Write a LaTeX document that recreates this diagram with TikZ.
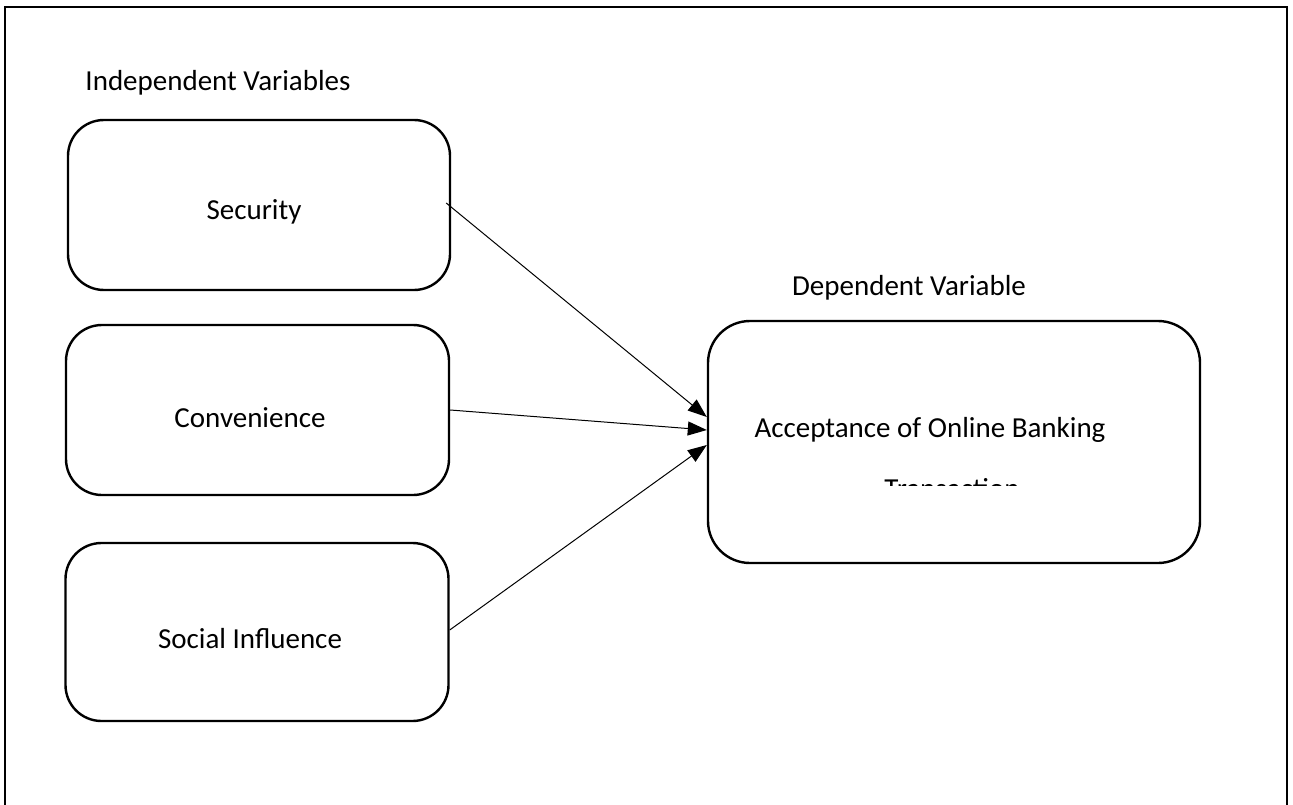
\documentclass[tikz,border=0pt]{standalone}
\usepackage{fontspec}
\setmainfont{Carlito}
\usetikzlibrary{arrows.meta,positioning}
\tikzset{
  varbox/.style={draw, line width=2.4pt, rounded corners=36pt, inner sep=0pt},
  lbl/.style={font=\fontsize{29}{35}\selectfont, inner sep=0pt},
  link/.style={line width=1pt, -{Triangle[length=19pt,width=14pt]}}
}
\begin{document}
\begin{tikzpicture}[x=1pt, y=-1pt]
\useasboundingbox (0,0) rectangle (1293,805);
\draw[line width=2pt] (5,805) -- (5,7) -- (1287,7) -- (1287,805);

\node[lbl] (indep) at (218,83) {Independent Variables};
\node[varbox, minimum width=382pt, minimum height=170pt] (sec) at (259,205) {};
\node[varbox, minimum width=383pt, minimum height=170pt] (con) at (257.5,410) {};
\node[varbox, minimum width=383pt, minimum height=178pt] (soc) at (257,632) {};
\node[lbl] at (254,212) {Security};
\node[lbl] at (250,418) {Convenience};
\node[lbl] at (250,639) {Social Influence};

\node[lbl] (dependent) at (909,288) {Dependent Variable};
\node[varbox, rounded corners=42pt, minimum width=492pt, minimum height=242pt] (dep) at (954,442) {};
\node[lbl] (accept) at (930,430) {Acceptance of Online Banking};
\begin{scope}
\clip (700,440) rectangle (1200,485);
\node[lbl, anchor=base] (trans) at (952,498) {Transaction};
\end{scope}

\draw[link] ([xshift=-5pt,yshift=2pt]sec.east) -- ([yshift=25pt]dep.west);
\draw[link] (con.east) -- ([yshift=12pt]dep.west);
\draw[link] ([yshift=2pt]soc.east) -- ([yshift=-3pt]dep.west);
\end{tikzpicture}
\end{document}
